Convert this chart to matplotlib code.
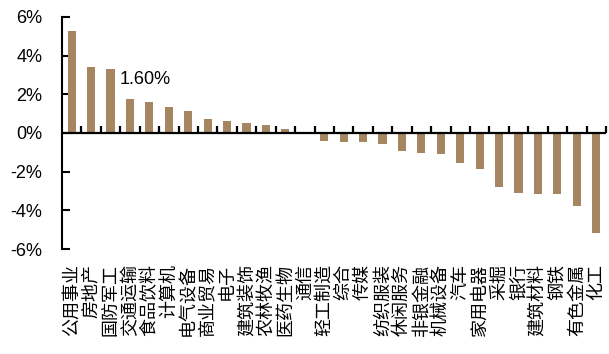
import numpy as np
import matplotlib
matplotlib.use('Agg')
import matplotlib.pyplot as plt
from matplotlib.ticker import FuncFormatter

industries = [
    '公用事业', '房地产', '国防军工', '交通运输', '食品饮料', '计算机', '电气设备',
    '商业贸易', '电子', '建筑装饰', '农林牧渔', '医药生物', '通信', '轻工制造',
    '综合', '传媒', '纺织服装', '休闲服务', '非银金融', '机械设备', '汽车',
    '家用电器', '采掘', '银行', '建筑材料', '钢铁', '有色金属', '化工',
]
returns = [
    5.28, 3.41, 3.31, 1.76, 1.60, 1.36, 1.15,
    0.74, 0.64, 0.53, 0.43, 0.22, 0.02, -0.39,
    -0.49, -0.49, -0.59, -0.91, -1.01, -1.11, -1.53,
    -1.84, -2.77, -3.08, -3.18, -3.18, -3.80, -5.15,
]
callout = '食品饮料'

BAR = '#a68660'
plt.rcParams['font.family'] = ['Liberation Sans', 'DejaVu Sans']

fig = plt.figure(figsize=(6.09, 3.54), dpi=100)
ax = fig.add_axes([0.1018, 0.2966, 0.8932, 0.6554])

x = np.arange(len(industries))
ax.bar(x, returns, width=0.42, color=BAR, zorder=2)
ax.set_xlim(-0.5, len(industries) - 0.5)
ax.set_ylim(-6, 6)

# y axis: ticks pointing into the plot
ax.set_yticks(np.arange(-6, 7, 2))
ax.yaxis.set_major_formatter(FuncFormatter(lambda v, _: f'{v:.0f}%'))
ax.tick_params(axis='y', direction='in', length=6, width=1.5, labelsize=13, pad=14)
ax.spines['left'].set_linewidth(1.5)
for side in ('top', 'right', 'bottom'):
    ax.spines[side].set_visible(False)

# category names hang below the plot, rotated
ax.set_xticks(x)
ax.set_xticklabels(industries, rotation=90, va='top', ha='center',
                   family=['Noto Sans CJK SC', 'DejaVu Sans'], fontsize=13)
ax.tick_params(axis='x', length=0, pad=11)

# zero line with small upward ticks between categories
bounds = np.arange(0.5, len(industries), 1.0)
ax.axhline(0, color='black', linewidth=1.6, zorder=3)
ax.vlines(bounds, 0, 0.34, colors='black', linewidths=1.6, zorder=4, clip_on=False)

i = industries.index(callout)
ax.text(2.45, 2.76, f'{returns[i]:.2f}%', ha='left', va='center', fontsize=13)

fig.savefig('out.png', dpi=100, facecolor='white')
plt.close(fig)
